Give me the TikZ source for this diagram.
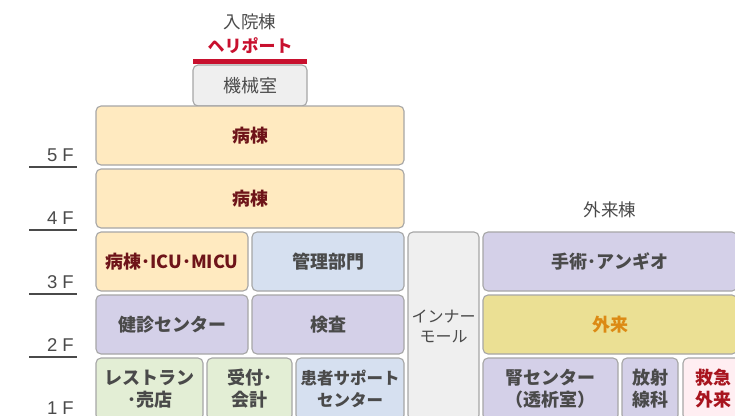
\documentclass[tikz,border=0pt]{standalone}
\usepackage{fontspec}
\newfontfamily\jp{Noto Sans CJK JP}
\newfontfamily\floorfont{Liberation Sans}

\definecolor{roomline}{HTML}{A6A6A6}
\definecolor{graytext}{HTML}{4A4A4A}
\definecolor{wardfill}{HTML}{FFEAC0}
\definecolor{wardtext}{HTML}{6E1419}
\definecolor{bluefill}{HTML}{D6E0F0}
\definecolor{purplefill}{HTML}{D4D0E8}
\definecolor{greenfill}{HTML}{E3EED5}
\definecolor{grayfill}{HTML}{EFEFEF}
\definecolor{outfill}{HTML}{EBE094}
\definecolor{outtext}{HTML}{DC8A14}
\definecolor{erfill}{HTML}{FFEEF2}
\definecolor{ertext}{HTML}{A8141E}
\definecolor{helired}{HTML}{C8102E}

\begin{document}
\begin{tikzpicture}[x=1pt, y=-1pt,
    room/.style={draw=roomline, line width=1.1pt, rounded corners=5pt, inner sep=0pt,
      align=center, text=graytext, font=\jp\bfseries\fontsize{18}{22}\selectfont},
    ward/.style={room, fill=wardfill, text=wardtext},
    admin/.style={room, fill=bluefill},
    clinic/.style={room, fill=purplefill},
    shop/.style={room, fill=greenfill},
    plain/.style={room, fill=grayfill},
    caption/.style={text=graytext, font=\jp\fontsize{17.5}{20}\selectfont}]
    \useasboundingbox (0,0) rectangle (735,415);

    % 入院棟
    \node[caption] (inpatient) at (250, 22) {入院棟};
    \node[text=helired, font=\jp\bfseries\fontsize{17}{20}\selectfont] (heliport) at (250, 46) {ヘリポート};
    \fill[helired] (193, 59) rectangle (307, 64);
    \node[plain, minimum width=114pt, minimum height=41pt, font=\jp\fontsize{18}{20}\selectfont] (kikai) at (250, 85.5) {機械室};
    \node[ward, minimum width=308pt, minimum height=59pt] (ward5) at (250, 135.5) {病棟};
    \node[ward, minimum width=308pt, minimum height=59pt] (ward4) at (250, 198.5) {病棟};
    \node[ward, minimum width=152pt, minimum height=59pt] (icu) at (172, 261.5) {病棟･ICU･MICU};
    \node[admin, minimum width=152pt, minimum height=59pt] (kanri) at (328, 261.5) {管理部門};
    \node[clinic, minimum width=152pt, minimum height=59pt] (kenshin) at (172, 324.5) {健診センター};
    \node[clinic, minimum width=152pt, minimum height=59pt] (kensa) at (328, 324.5) {検査};
    \node[shop, minimum width=107pt, minimum height=62pt] (shop) at (149.5, 389) {レストラン\\･売店};
    \node[shop, minimum width=85pt, minimum height=62pt] (uketsuke) at (249.5, 389) {受付･\\会計};
    \node[admin, minimum width=108pt, minimum height=62pt, font=\jp\bfseries\fontsize{16.5}{22}\selectfont] (support) at (350, 389) {患者サポート\\センター};

    % インナーモール
    \node[plain, minimum width=71pt, minimum height=188pt, font=\jp\fontsize{16}{20}\selectfont] (mall) at (443.5, 326) {インナー\\モール};

    % 外来棟
    \node[caption] (outpatient) at (610, 210) {外来棟};
    \node[clinic, minimum width=254pt, minimum height=59pt] (surgery) at (610, 261.5) {手術･アンギオ};
    \node[room, fill=outfill, text=outtext, minimum width=254pt, minimum height=59pt] (gairai) at (610, 324.5) {外来};
    \node[clinic, minimum width=135pt, minimum height=62pt] (kidney) at (550.5, 389) {腎センター\\（透析室）};
    \node[clinic, minimum width=56pt, minimum height=62pt] (radiology) at (650, 389) {放射\\線科};
    \node[room, fill=erfill, text=ertext, minimum width=60pt, minimum height=62pt] (er) at (713, 389) {救急\\外来};

    % floors
    \foreach \f/\y in {5/167, 4/230, 3/294, 2/357, 1/420} {
        \node[anchor=base east, inner sep=0pt, text=graytext, font=\floorfont\fontsize{18.5}{20}\selectfont] (floor\f) at (74, \y-5.5) {\f\ F};
        \draw[graytext, line width=1.6pt] (29, \y) -- (77, \y);
    }
\end{tikzpicture}
\end{document}
